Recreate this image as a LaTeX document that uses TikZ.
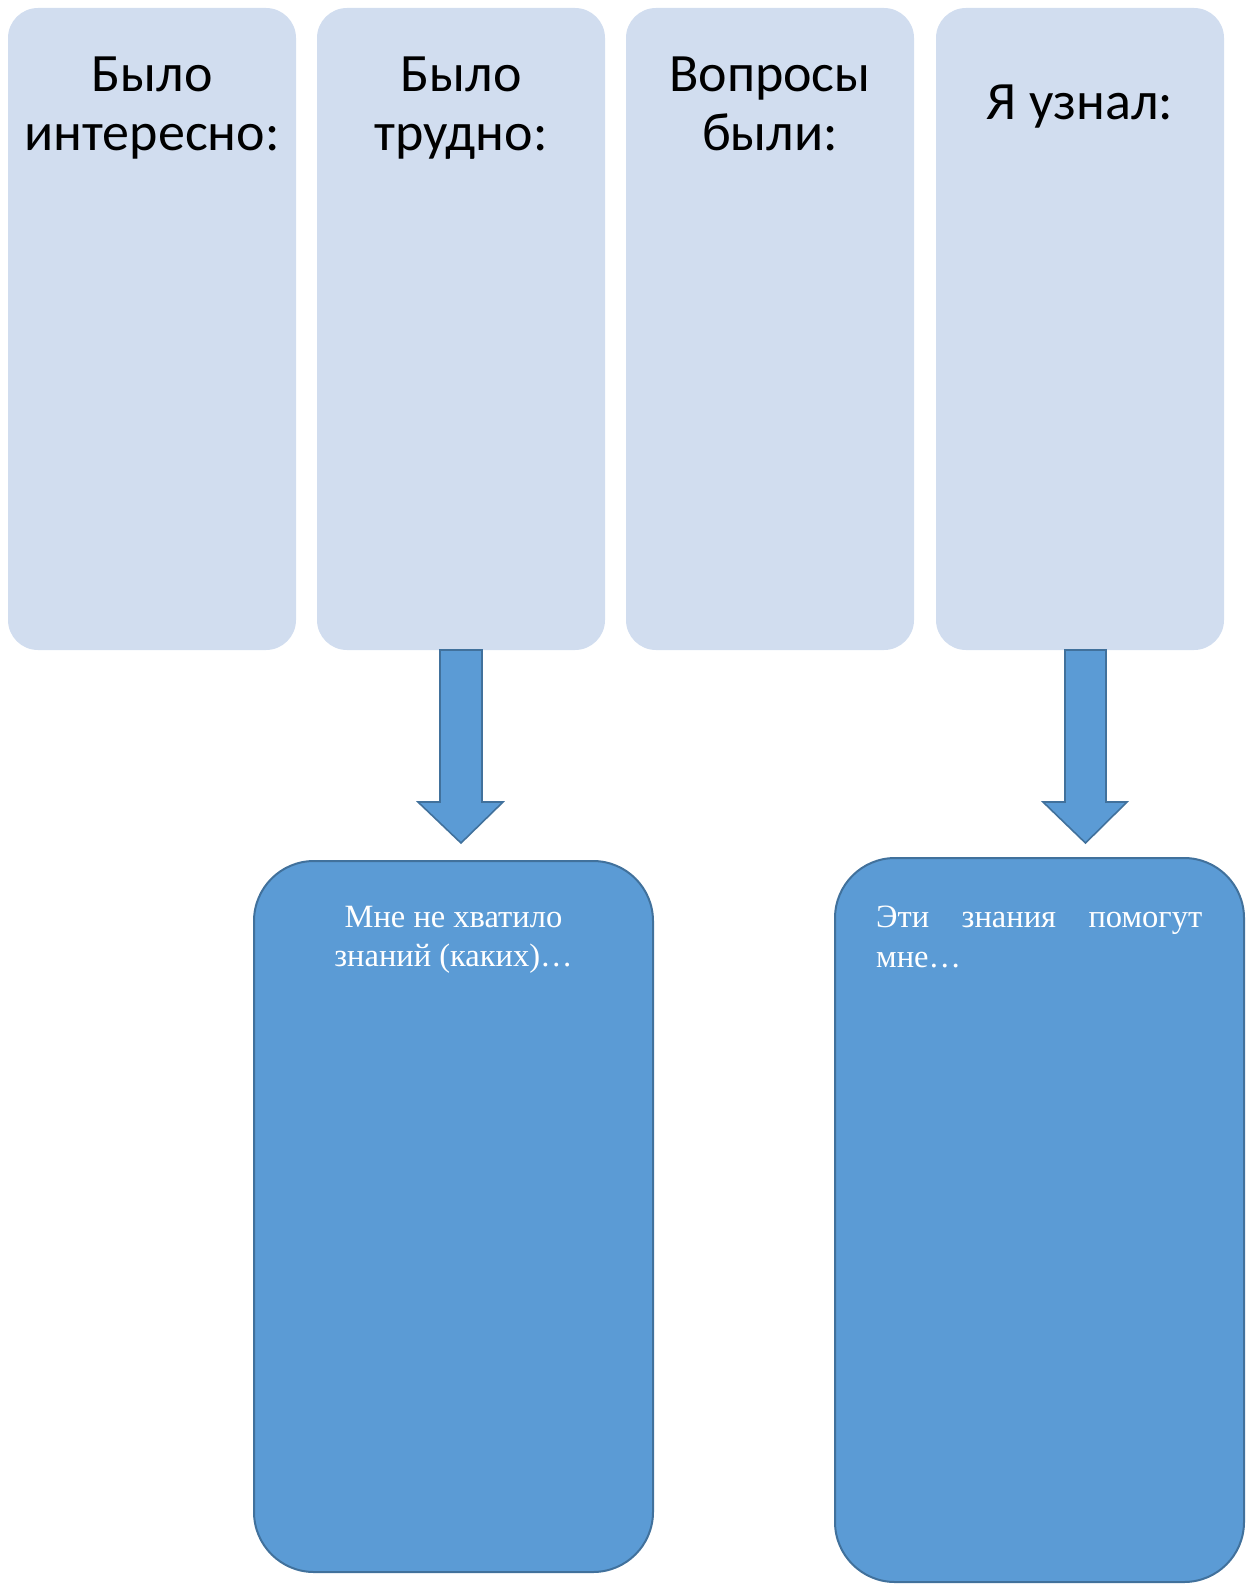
\documentclass[tikz,border=0pt]{standalone}
\usepackage{fontspec}
\setmainfont{Liberation Serif}
\newfontfamily\calfont{Carlito}
\usetikzlibrary{calc}
\definecolor{lightbox}{HTML}{D1DDEF}
\definecolor{midblue}{HTML}{5B9BD5}
\definecolor{edgeblue}{HTML}{41719C}
\tikzset{
  topbox/.style={fill=lightbox, draw=none, rounded corners=30pt, minimum width=288pt, minimum height=642pt, inner sep=0pt},
  toptext/.style={font=\calfont\fontsize{54}{59}\selectfont, align=center, inner sep=0pt, text=black},
  botbox/.style={fill=midblue, draw=edgeblue, line width=2pt, rounded corners=60pt, inner sep=0pt},
  bottext/.style={font=\fontsize{32.5}{39.5}\selectfont, text=white, inner sep=0pt},
  blockarrow/.style={fill=midblue, draw=edgeblue, line width=1.6pt, line join=miter}
}
\begin{document}
\begin{tikzpicture}[x=1pt,y=-1pt]
\useasboundingbox (0,0) rectangle (1250,1584);
% top boxes
\node[topbox] (t1) at (152,329) {};
\node[topbox] (t2) at (461,329) {};
\node[topbox] (t3) at (770,329) {};
\node[topbox] (t4) at (1080,329) {};
\node[toptext, anchor=north] (l1) at (152,57) {Было\\интересно:};
\node[toptext, anchor=north] (l2) at (461,57) {Было\\трудно:};
\node[toptext, anchor=north] (l3) at (770,57) {Вопросы\\были:};
\node[toptext, anchor=base] (l4) at (1080,120) {Я узнал:};
% bottom boxes
\draw[botbox] (254,861) rectangle (653,1572);
\draw[botbox] (835,858) rectangle (1244,1582);
\node[bottext, align=center, anchor=north] (m1) at (453.5,906) {Мне не хватило\\знаний (каких)…};
\node[bottext, text width=326pt, align=left, anchor=north west] (m2) at (876,906) {Эти\hfill знания\hfill помогут\\мне…};
% block arrows
\coordinate (a1top) at (461,650);
\coordinate (a1tip) at (461,843);
\draw[blockarrow] ($(a1top)+(-21,0)$) -- ($(a1top)+(21,0)$) -- ($(a1top)+(21,152)$) -- ($(a1top)+(42,152)$) -- (a1tip) -- ($(a1top)+(-43,152)$) -- ($(a1top)+(-21,152)$) -- cycle;
\coordinate (a2top) at (1085.5,650);
\coordinate (a2tip) at (1085.5,843);
\draw[blockarrow] ($(a2top)+(-20.5,0)$) -- ($(a2top)+(20.5,0)$) -- ($(a2top)+(20.5,152)$) -- ($(a2top)+(41.5,152)$) -- (a2tip) -- ($(a2top)+(-42.5,152)$) -- ($(a2top)+(-20.5,152)$) -- cycle;
\end{tikzpicture}
\end{document}
